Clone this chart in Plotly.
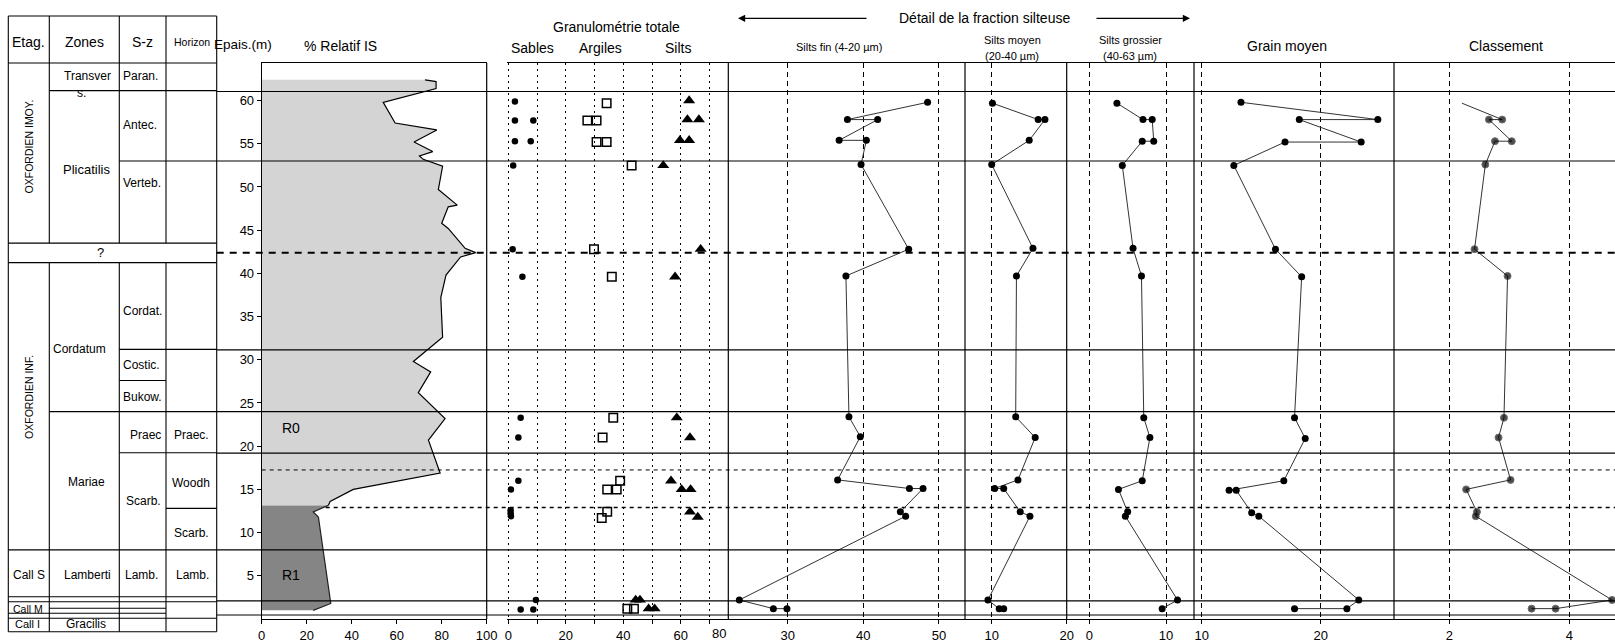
import plotly.graph_objects as go

W, H = 1615, 642
M_TOP, M_BOT = 63, 23
Y_TOP = 64.35          # épaisseur (m) at the top edge of the plotting area
FONT = "Liberation Sans, Arial, sans-serif"

# ---------------- % relatif IS (profile, two domains R0 / R1) ----------------
r0_depth = [62.4, 62.2, 61.4, 61.0, 59.8, 57.4, 56.6, 55.2, 54.1, 53.6, 53.2, 52.4,
            49.7, 47.9, 47.7, 45.8, 45.2, 42.9, 42.4, 41.9, 39.8, 37.2, 32.6, 29.8,
            28.6, 26.2, 23.2, 20.7, 16.9, 15.0, 13.6, 13.15]
r0_is = [72.6, 77.5, 77.5, 71.8, 54.0, 59.3, 77.8, 67.7, 76.0, 70.1, 71.8, 80.4,
         78.5, 86.9, 82.9, 80.0, 82.9, 90.4, 95.1, 88.4, 81.9, 79.6, 80.4, 67.4,
         75.1, 69.6, 81.5, 74.1, 79.3, 40.7, 30.4, 29.6]
r1_depth = [13.15, 12.4, 11.8, 8.0, 1.8, 1.0]
r1_is = [29.6, 22.9, 25.2, 27.4, 30.7, 22.9]

# ---------------- Granulométrie totale (%) ----------------
sables_depth = [59.9, 57.7, 57.7, 55.3, 55.3, 52.5, 42.8, 39.6, 23.3, 21.0, 16.0,
                15.0, 12.6, 12.2, 11.9, 2.2, 1.1, 1.1]
sables = [2.3, 2.3, 8.7, 2.3, 7.8, 1.7, 1.5, 4.9, 4.3, 3.5, 3.5,
          0.9, 0.8, 0.8, 0.9, 9.6, 4.3, 8.7]
argiles_depth = [59.7, 57.7, 57.7, 55.2, 55.2, 52.5, 42.8, 39.6, 23.3, 21.0, 16.0,
                 15.0, 15.0, 12.4, 11.7, 1.2, 1.2]
argiles = [34.2, 27.5, 30.7, 30.7, 34.2, 42.9, 29.8, 36.0, 36.5, 32.8, 38.9,
           34.4, 37.7, 34.4, 32.5, 41.4, 43.7]
silts_depth = [60.0, 57.8, 57.8, 55.4, 55.4, 52.5, 42.8, 39.6, 23.3, 21.0, 16.0,
               15.0, 15.0, 12.4, 11.8, 2.2, 2.2, 1.2, 1.2]
silts = [62.9, 62.3, 66.3, 59.7, 62.9, 53.9, 66.9, 58.0, 58.6, 63.2, 56.6,
         60.3, 63.4, 63.2, 65.9, 44.3, 45.8, 48.8, 50.9]

# ---------------- Détail de la fraction silteuse ----------------
sf_depth = [59.8, 57.8, 57.8, 55.4, 55.4, 52.6, 42.8, 39.7, 23.4, 21.1, 16.1,
            15.1, 15.1, 12.4, 11.9, 2.2, 1.2, 1.2]
silts_fin = [48.5, 37.9, 41.9, 36.8, 40.4, 39.7, 46.0, 37.7, 38.1, 39.6, 36.6,
             46.1, 47.9, 44.9, 45.6, 23.6, 28.1, 29.9]
sm_depth = [59.7, 57.8, 57.8, 55.4, 52.6, 42.9, 39.7, 23.4, 21.0, 16.1, 15.1,
            15.1, 12.4, 11.9, 2.2, 1.2, 1.2]
silts_moyen = [10.1, 16.2, 17.1, 15.0, 10.0, 15.5, 13.3, 13.2, 15.8, 13.5, 10.4,
               11.6, 13.8, 15.1, 9.5, 11.0, 11.6]
sg_depth = [59.7, 57.8, 57.8, 55.3, 55.3, 52.5, 42.9, 39.7, 23.3, 21.0, 16.0,
            15.0, 12.4, 11.9, 2.2, 1.2]
silts_grossier = [3.6, 7.0, 8.2, 8.4, 6.9, 4.3, 5.7, 6.8, 7.1, 7.9, 6.9,
                  3.8, 5.0, 4.7, 11.5, 9.5]
gm_depth = [59.8, 57.8, 57.8, 55.2, 55.2, 52.5, 42.8, 39.6, 23.3, 20.9, 16.0,
            14.9, 14.9, 12.3, 11.9, 2.2, 1.2, 1.2]
grain_moyen = [13.3, 24.8, 18.2, 23.4, 17.0, 12.7, 16.2, 18.4, 17.8, 18.7, 16.9,
               12.3, 12.9, 14.2, 14.8, 23.2, 22.2, 17.8]
cl_depth = [59.7, 57.8, 57.8, 55.3, 55.3, 52.6, 42.8, 39.7, 23.3, 21.0, 16.1,
            15.0, 12.4, 11.9, 2.2, 1.2, 1.2]
classement = [2.21, 2.88, 2.66, 3.04, 2.76, 2.60, 2.42, 2.97, 2.91, 2.82, 3.02,
              2.28, 2.46, 2.44, 4.71, 3.77, 3.37]

# ---------------- stratigraphic boundaries (m) ----------------
bound_solid = [61.05, 53.0, 31.15, 24.0, 19.2, 8.0, 2.1, 0.46]
bound_thick_dash = [42.4]
bound_thin_dash = [17.25]
bound_dash = [12.9]

depth_ticks = [5, 10, 15, 20, 25, 30, 35, 40, 45, 50, 55, 60]


def px(x):
    return x / W


def py(y):
    return (H - M_BOT - y) / (H - M_TOP - M_BOT)


def dp(d):
    return d / Y_TOP


fig = go.Figure()

# IS profile
fig.add_trace(go.Scatter(x=r0_is, y=r0_depth, xaxis="x", yaxis="y", mode="lines",
                         fill="tozerox", fillcolor="#d4d4d4",
                         line=dict(color="black", width=1.2), hoverinfo="skip"))
fig.add_trace(go.Scatter(x=r1_is, y=r1_depth, xaxis="x", yaxis="y", mode="lines",
                         fill="tozerox", fillcolor="#858585",
                         line=dict(color="#222", width=1.2), hoverinfo="skip"))

# granulométrie
fig.add_trace(go.Scatter(x=sables, y=sables_depth, xaxis="x2", yaxis="y", mode="markers",
                         marker=dict(symbol="circle", size=6.5, color="black")))
fig.add_trace(go.Scatter(x=argiles, y=argiles_depth, xaxis="x2", yaxis="y", mode="markers",
                         marker=dict(symbol="square-open", size=8.5, color="black",
                                     line=dict(width=1.5))))
fig.add_trace(go.Scatter(x=silts, y=silts_depth, xaxis="x2", yaxis="y", mode="markers",
                         marker=dict(symbol="triangle-up", size=10.5, color="black")))

line_style = dict(color="#333", width=1)
dot_style = dict(symbol="circle", size=7, color="black")
for xs, ys, ax in [(silts_fin, sf_depth, "x3"), (silts_moyen, sm_depth, "x4"),
                   (silts_grossier, sg_depth, "x5"), (grain_moyen, gm_depth, "x6")]:
    fig.add_trace(go.Scatter(x=xs, y=ys, xaxis=ax, yaxis="y", mode="lines+markers",
                             line=line_style, marker=dot_style))
cl_sizes = [0] + [7] * (len(classement) - 1)
fig.add_trace(go.Scatter(x=classement, y=cl_depth, xaxis="x7", yaxis="y",
                         mode="lines+markers", line=line_style,
                         marker=dict(symbol="circle", size=cl_sizes, color="black")))

# ---------------- axes ----------------
panels = {
    "xaxis":  dict(dom=(261.7, 486.7), rng=[0, 100], tv=[0, 20, 40, 60, 80, 100], grid=None),
    "xaxis2": dict(dom=(506.7, 728.3), rng=[-0.56, 76.52], tv=list(range(0, 80, 10)),
                   tt=["0", "", "20", "", "40", "", "60", ""], grid="2px,4px"),
    "xaxis3": dict(dom=(728.3, 965.0), rng=[22.14, 53.45], tv=[30, 40, 50], grid="5px,4px"),
    "xaxis4": dict(dom=(965.0, 1066.7), rng=[6.44, 20.0], tv=[10, 20], grid="5px,4px"),
    "xaxis5": dict(dom=(1066.7, 1194.0), rng=[-2.95, 13.65], tv=[0, 10], grid="5px,4px"),
    "xaxis6": dict(dom=(1194.0, 1394.0), rng=[9.353, 26.16], tv=[10, 20], grid="5px,4px"),
    "xaxis7": dict(dom=(1394.0, 1615.0), rng=[1.078, 4.76], tv=[2, 4], grid="5px,4px"),
}
axes_layout = {}
for name, p in panels.items():
    axes_layout[name] = dict(
        domain=[px(p["dom"][0]), px(p["dom"][1])], range=p["rng"], anchor="y",
        tickvals=p["tv"], ticktext=p.get("tt", [str(v) for v in p["tv"]]),
        ticks="outside", ticklen=4, tickcolor="black", automargin=False,
        showline=True, linecolor="black", linewidth=1, mirror=True,
        showgrid=p["grid"] is not None, gridcolor="black", gridwidth=1,
        griddash=p["grid"] or "solid", zeroline=False,
        tickfont=dict(size=13, color="black", family=FONT),
    )

fig.update_layout(
    width=W, height=H, margin=dict(l=0, r=0, t=M_TOP, b=M_BOT, autoexpand=False),
    paper_bgcolor="white", plot_bgcolor="white", showlegend=False,
    font=dict(family=FONT, color="black"),
    yaxis=dict(domain=[0, 1], range=[0, Y_TOP], anchor="x", tickvals=depth_ticks,
               ticks="outside", ticklen=4, tickcolor="black", showline=True,
               linecolor="black", linewidth=1, showgrid=False, zeroline=False,
               automargin=False,
               tickfont=dict(size=13, color="black", family=FONT)),
    **axes_layout,
)

shapes = []
# panel borders
for ref in ["x", "x3", "x4", "x5", "x6", "x2"]:
    shapes.append(dict(type="line", xref=f"{ref} domain", yref="paper", x0=1, x1=1,
                       y0=0, y1=1, line=dict(color="black", width=1.2)))

# stratigraphic boundaries across the panels
x_table_right = 216.7
for d in bound_solid:
    shapes.append(dict(type="line", xref="paper", yref="y", x0=px(x_table_right), x1=1,
                       y0=d, y1=d, line=dict(color="black", width=1.1), layer="above"))
for d in bound_thick_dash:
    shapes.append(dict(type="line", xref="paper", yref="y", x0=px(x_table_right), x1=1,
                       y0=d, y1=d, line=dict(color="black", width=2, dash="7px,6px"),
                       layer="above"))
for d in bound_thin_dash:
    shapes.append(dict(type="line", xref="paper", yref="y", x0=px(261.7), x1=1,
                       y0=d, y1=d, line=dict(color="black", width=1, dash="4px,4px"),
                       layer="above"))
for d in bound_dash:
    shapes.append(dict(type="line", xref="paper", yref="y", x0=px(261.7), x1=1,
                       y0=d, y1=d, line=dict(color="black", width=1.6, dash="4px,4px"),
                       layer="below"))

# ---------------- stratigraphic table ----------------
table_cols = [8.3, 49.3, 119.3, 166.0, 216.7]
header_top = 16.0
table_bottom = -1.47
q_row = (43.5, 41.25)      # "?" row spanning all columns
table_hlines = [(61.15, 1, 4), (53.0, 2, 4), (43.5, 0, 4), (41.25, 0, 4), (31.2, 2, 4),
                (27.6, 2, 3), (24.0, 1, 4), (19.25, 2, 4), (12.8, 3, 4), (8.0, 0, 4),
                (2.58, 0, 4), (2.0, 0, 4), (1.24, 1, 3), (0.66, 0, 3), (0.08, 0, 4),
                (table_bottom, 0, 4)]
tl = dict(color="black", width=1.1)
shapes.append(dict(type="line", xref="paper", yref="paper", x0=px(table_cols[0]),
                   x1=px(table_cols[-1]), y0=py(header_top), y1=py(header_top), line=tl))
shapes.append(dict(type="line", xref="paper", yref="paper", x0=px(table_cols[0]),
                   x1=px(table_cols[-1]), y0=1, y1=1, line=tl))
for d, a, b in table_hlines:
    shapes.append(dict(type="line", xref="paper", yref="paper", x0=px(table_cols[a]),
                       x1=px(table_cols[b]), y0=dp(d), y1=dp(d), line=tl))
for i, xc in enumerate(table_cols):
    if i in (0, len(table_cols) - 1):
        segs = [(py(header_top), dp(table_bottom))]
    else:
        segs = [(py(header_top), dp(q_row[0])), (dp(q_row[1]), dp(table_bottom))]
    for y0, y1 in segs:
        shapes.append(dict(type="line", xref="paper", yref="paper", x0=px(xc), x1=px(xc),
                           y0=y0, y1=y1, line=tl))

fig.update_layout(shapes=shapes)

ann = []


def text(t, x, y, size=13, xanchor="center", angle=0, yref="paper"):
    ann.append(dict(text=t, x=x, y=y, xref="paper", yref=yref, showarrow=False,
                    xanchor=xanchor, yanchor="middle", textangle=angle,
                    font=dict(size=size, color="black", family=FONT)))


# header row
text("Etag.", px(28.5), py(41.7), 14)
text("Zones", px(84), py(41.7), 14)
text("S-z", px(142.5), py(41.7), 14)
text("Horizon", px(191.5), py(41.7), 10.5)

# table cells: (label, x px, depth, size, anchor, angle)
table_cells = [
    ("OXFORDIEN IMOY.", 29.0, 54.7, 10.5, "center", -90),
    ("?", 100.0, 42.4, 13, "center", 0),
    ("Transver", 87.5, 62.8, 12, "center", 0),
    ("s.", 81.0, 60.85, 12, "center", 0),
    ("Paran.", 121.0, 62.8, 12, "left", 0),
    ("Plicatilis", 86.0, 51.97, 13, "center", 0),
    ("Antec.", 120.5, 57.2, 12, "left", 0),
    ("Verteb.", 120.5, 50.5, 12, "left", 0),
    ("OXFORDIEN INF.", 29.0, 25.7, 10.5, "center", -90),
    ("Cordat.", 120.5, 35.6, 12, "left", 0),
    ("Cordatum", 51.0, 31.3, 12, "left", 0),
    ("Costic.", 120.5, 29.4, 12, "left", 0),
    ("Bukow.", 120.5, 25.66, 12, "left", 0),
    ("Mariae", 86.0, 15.9, 12, "center", 0),
    ("Praec", 145.0, 21.3, 12, "center", 0),
    ("Praec.", 191.0, 21.3, 12, "center", 0),
    ("Woodh", 191.0, 15.7, 12, "center", 0),
    ("Scarb.", 143.0, 13.6, 12, "center", 0),
    ("Scarb.", 191.5, 9.9, 12, "center", 0),
    ("Call S", 29.0, 5.1, 12, "center", 0),
    ("Lamberti", 87.5, 5.1, 12, "center", 0),
    ("Lamb.", 141.7, 5.1, 12, "center", 0),
    ("Lamb.", 192.0, 5.1, 12, "center", 0),
    ("Call M", 28.3, 1.2, 10.5, "center", 0),
    ("Call I", 27.5, -0.58, 11, "center", 0),
    ("Gracilis", 85.8, -0.58, 12, "center", 0),
]
for label, x, d, size, anchor, angle in table_cells:
    text(label, px(x), dp(d), size, anchor, angle)

# panel titles
text("Epais.(m)", px(243), py(45), 13.5)
text("% Relatif IS", px(340), py(46), 14)
text("Granulométrie totale", px(616), py(27), 14)
text("Sables", px(532), py(48), 14)
text("Argiles", px(600), py(48), 14)
text("Silts", px(678), py(48), 14)
text("Silts fin (4-20 µm)", px(839), py(47), 11)
text("Silts moyen", px(1012), py(40), 11)
text("(20-40 µm)", px(1012), py(56), 11)
text("Silts grossier", px(1130), py(40), 11)
text("(40-63 µm)", px(1130), py(56), 11)
text("Grain moyen", px(1287), py(46), 14)
text("Classement", px(1506), py(46), 14)
text("Détail de la fraction silteuse", px(984), py(18), 14)

# IS domain labels
ann.append(dict(text="R0", x=12.8, y=22.1, xref="x", yref="y", showarrow=False,
                font=dict(size=14, color="black", family=FONT)))
ann.append(dict(text="R1", x=12.8, y=5.1, xref="x", yref="y", showarrow=False,
                font=dict(size=14, color="black", family=FONT)))

# last tick label of the granulometry scale sits on the panel edge
ann.append(dict(text="80", x=1, y=0, xref="x2 domain", yref="paper", showarrow=False,
                yanchor="top", yshift=-5, font=dict(size=13, color="black", family=FONT)))

# arrows framing the silt-fraction title
ann.append(dict(text="", x=px(738), y=py(18.3), xref="paper", yref="paper",
                showarrow=True, ax=130, ay=0, arrowhead=2, arrowsize=1.2,
                arrowwidth=1.2, arrowcolor="black"))
ann.append(dict(text="", x=px(1190), y=py(18.3), xref="paper", yref="paper",
                showarrow=True, ax=-95, ay=0, arrowhead=2, arrowsize=1.2,
                arrowwidth=1.2, arrowcolor="black"))

fig.update_layout(annotations=ann)
fig.write_html("out.html")
